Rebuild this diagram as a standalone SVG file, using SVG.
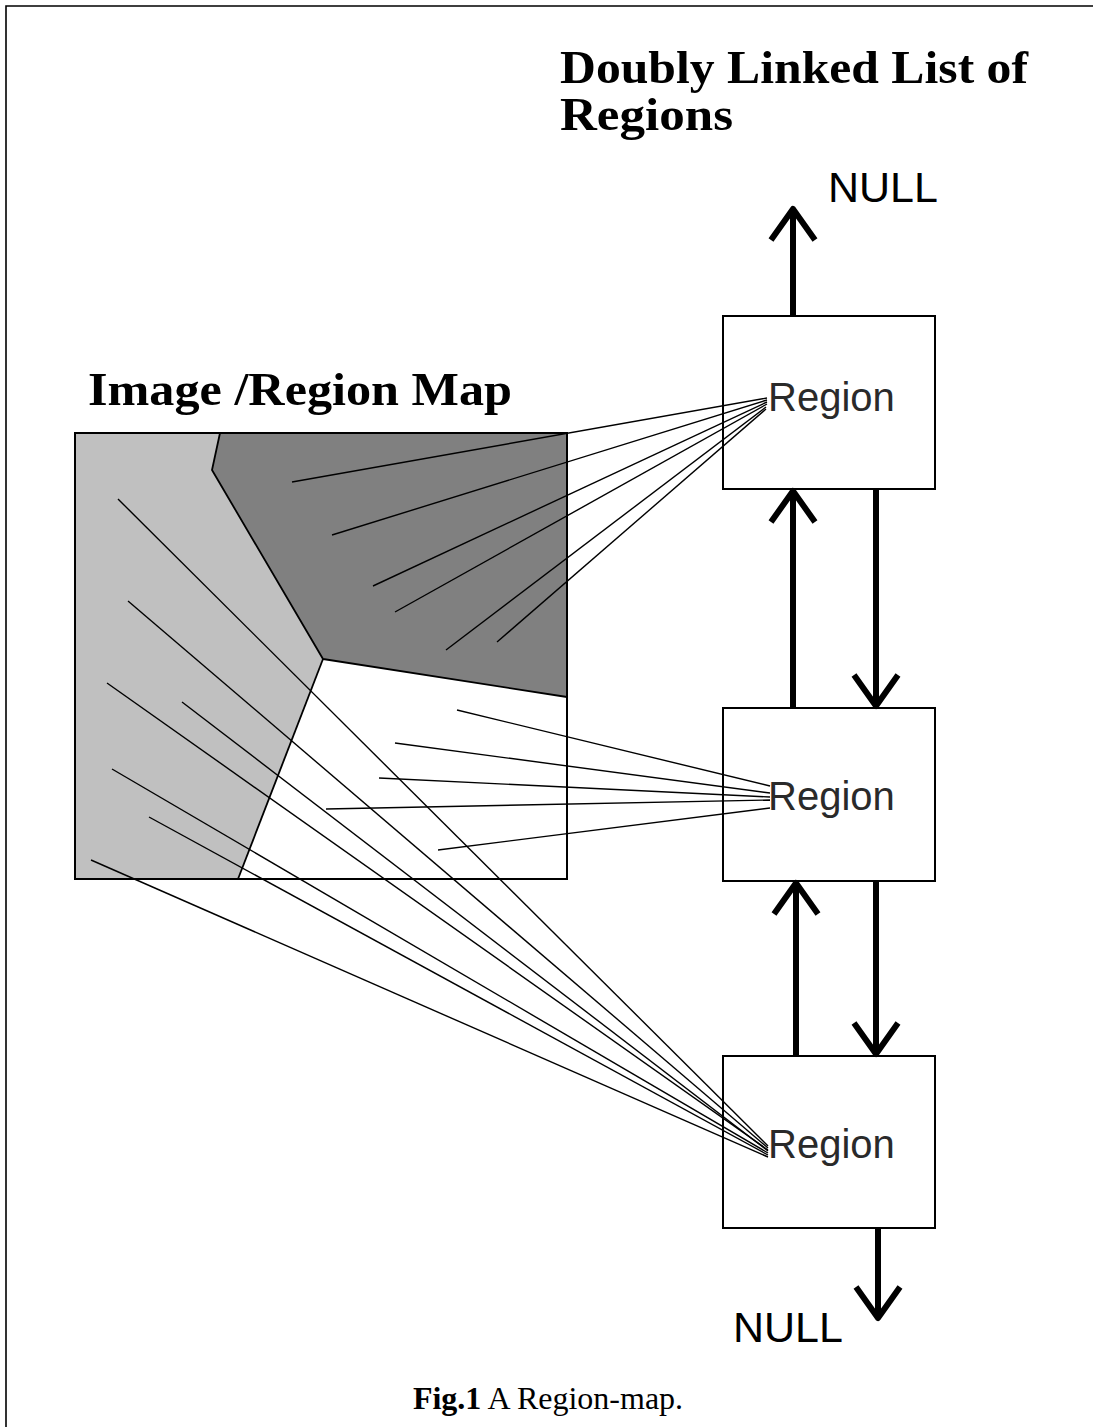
<svg xmlns="http://www.w3.org/2000/svg" width="1093" height="1427" viewBox="0 0 1093 1427">
  <style>
    .title { font-family: "Liberation Serif", "Times New Roman", serif; font-weight: bold; font-size: 47px; fill: #000; }
    .label { font-family: "Liberation Sans", Arial, sans-serif; font-size: 40px; fill: #2a2a2a; }
    .null { font-family: "Liberation Sans", Arial, sans-serif; font-size: 43px; fill: #000; }
    .caption { font-family: "Liberation Serif", "Times New Roman", serif; font-size: 32px; fill: #000; }
    .box { fill: #fff; stroke: #000; stroke-width: 2; }
    .ray { stroke: #000; stroke-width: 1.4; fill: none; }
    .link { stroke: #000; stroke-width: 6; fill: none; marker-end: url(#chev); }
    .edge { stroke: #000; stroke-width: 1.8; fill: none; stroke-linejoin: round; }
  </style>
  <defs>
    <!-- open chevron arrowhead for the list links -->
    <marker id="chev" markerUnits="userSpaceOnUse" markerWidth="50" markerHeight="60" viewBox="-40 -30 50 60" refX="0" refY="0" orient="auto" overflow="visible">
      <path d="M-31,-22 L0,0 L-31,22" fill="none" stroke="#000" stroke-width="6" stroke-linejoin="round"/>
    </marker>
  </defs>

  <rect width="1093" height="1427" fill="#fff"/>

  <!-- frame -->
  <path d="M6,1427 L6,6 L1093,6" fill="none" stroke="#000" stroke-width="1.6"/>

  <!-- headings -->
  <text class="title" x="560" y="83" textLength="468" lengthAdjust="spacingAndGlyphs">Doubly Linked List of</text>
  <text class="title" x="560" y="130" textLength="173" lengthAdjust="spacingAndGlyphs">Regions</text>
  <text class="title" x="88" y="405" textLength="424" lengthAdjust="spacingAndGlyphs">Image /Region Map</text>

  <!-- image / region map -->
  <g id="region-map">
    <rect x="75" y="433" width="492" height="446" fill="#fff"/>
    <polygon points="75,433 220,433 212,470 323,659 238,879 75,879" fill="#c0c0c0"/>
    <polygon points="220,433 567,433 567,697 323,659 212,470" fill="#808080"/>
    <polyline class="edge" points="220,433 212,470 323,659 567,697"/>
    <line class="edge" x1="323" y1="659" x2="238" y2="879"/>
    <rect x="75" y="433" width="492" height="446" fill="none" stroke="#000" stroke-width="2"/>
  </g>

  <!-- region nodes -->
  <g id="region-1">
    <rect class="box" x="723" y="316" width="212" height="173"/>
    <text class="label" x="768" y="411">Region</text>
  </g>
  <g id="region-2">
    <rect class="box" x="723" y="708" width="212" height="173"/>
    <text class="label" x="768" y="810">Region</text>
  </g>
  <g id="region-3">
    <rect class="box" x="723" y="1056" width="212" height="172"/>
    <text class="label" x="768" y="1158">Region</text>
  </g>

  <g id="null-top">
    <text class="null" x="828" y="202">NULL</text>
  </g>
  <g id="null-bottom">
    <text class="null" x="733" y="1342">NULL</text>
  </g>

  <!-- connectors -->
  <g id="connectors">
    <!-- list links -->
    <line class="link" x1="793" y1="316" x2="793" y2="209"/>
    <line class="link" x1="793" y1="708" x2="793" y2="491"/>
    <line class="link" x1="876" y1="489" x2="876" y2="706"/>
    <line class="link" x1="796" y1="1056" x2="796" y2="883"/>
    <line class="link" x1="876" y1="881" x2="876" y2="1054"/>
    <line class="link" x1="878" y1="1228" x2="878" y2="1318"/>

    <!-- pixels of the dark region -->
    <line class="ray" x1="292" y1="482" x2="767" y2="398"/>
    <line class="ray" x1="332" y1="535" x2="767" y2="400"/>
    <line class="ray" x1="373" y1="586" x2="767" y2="402"/>
    <line class="ray" x1="395" y1="612" x2="767" y2="404"/>
    <line class="ray" x1="446" y1="650" x2="766" y2="407"/>
    <line class="ray" x1="497" y1="642" x2="766" y2="409"/>

    <!-- pixels of the white region -->
    <line class="ray" x1="457" y1="710" x2="770" y2="786"/>
    <line class="ray" x1="395" y1="743" x2="770" y2="793"/>
    <line class="ray" x1="379" y1="778" x2="770" y2="797"/>
    <line class="ray" x1="326" y1="809" x2="770" y2="800"/>
    <line class="ray" x1="438" y1="850" x2="770" y2="808"/>

    <!-- pixels of the light region -->
    <line class="ray" x1="118" y1="499" x2="768" y2="1146"/>
    <line class="ray" x1="128" y1="601" x2="768" y2="1148"/>
    <line class="ray" x1="107" y1="683" x2="768" y2="1150"/>
    <line class="ray" x1="182" y1="702" x2="768" y2="1151"/>
    <line class="ray" x1="112" y1="769" x2="768" y2="1153"/>
    <line class="ray" x1="149" y1="817" x2="768" y2="1155"/>
    <line class="ray" x1="91" y1="860" x2="768" y2="1157"/>
  </g>

  <!-- caption -->
  <text class="caption" x="548" y="1409" text-anchor="middle"><tspan font-weight="bold">Fig.1</tspan> A Region-map.</text>
</svg>
